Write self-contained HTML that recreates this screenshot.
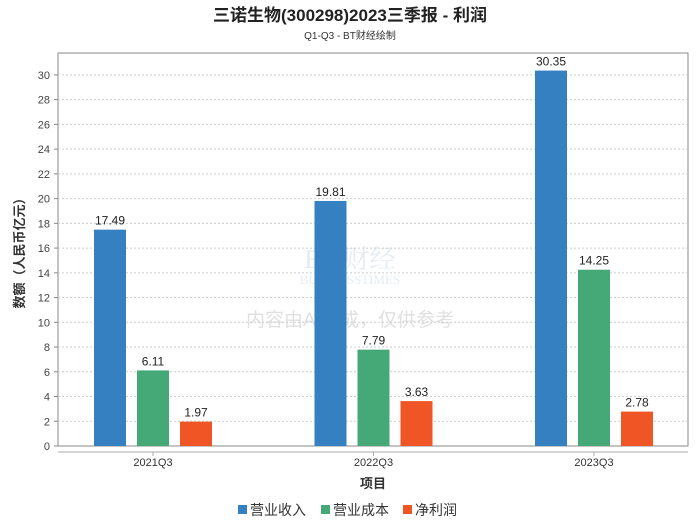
<!DOCTYPE html>
<html><head><meta charset="utf-8"><style>
body{margin:0;background:#fff;width:700px;height:524px;overflow:hidden;font-family:"Liberation Sans","Noto Sans CJK SC",sans-serif;}
</style></head><body>
<svg width="700" height="524" font-family="'Liberation Sans','Noto Sans CJK SC',sans-serif">
<text x="350" y="21" text-anchor="middle" font-size="17" font-weight="bold" fill="#222">三诺生物(300298)2023三季报 - 利润</text>
<text x="350" y="39" text-anchor="middle" font-size="10" fill="#333">Q1-Q3 - BT财经绘制</text>
<g opacity="0.12">
<text x="350" y="268" text-anchor="middle" font-size="26" fill="#3060a0" font-family="'Liberation Serif','Noto Serif CJK SC',serif">BT 财经</text>
<text x="350" y="284" text-anchor="middle" font-size="13" fill="#3060a0" font-family="'Liberation Serif',serif">BUSINESSTIMES</text>
</g>
<text x="350" y="326" text-anchor="middle" font-size="19" fill="#000" opacity="0.12">内容由AI生成，仅供参考</text>
<rect x="58" y="53" width="630" height="393" fill="none" stroke="#888"/>
<line x1="58" y1="452" x2="688" y2="452" stroke="#aaa"/>
<g id="grid"></g><g id="bars"></g>
<text x="373" y="488" text-anchor="middle" font-size="13" font-weight="bold" fill="#333">项目</text>
<text transform="translate(24,250) rotate(-90)" text-anchor="middle" font-size="13" font-weight="bold" fill="#333">数额（人民币亿元）</text>
<g font-size="14" fill="#333">
<rect x="238" y="505" width="9" height="9" fill="#3580c0"/><text x="250" y="515">营业收入</text>
<rect x="321" y="505" width="9" height="9" fill="#45a877"/><text x="333" y="515">营业成本</text>
<rect x="403" y="505" width="9" height="9" fill="#f05525"/><text x="415" y="515">净利润</text>
</g>
</svg>
<script>
const categories=["2021Q3","2022Q3","2023Q3"];
const revenue=[17.49,19.81,30.35];
const cost=[6.11,7.79,14.25];
const profit=[1.97,3.63,2.78];
const yTicks=[0,2,4,6,8,10,12,14,16,18,20,22,24,26,28,30];
const NS="http://www.w3.org/2000/svg";
const y=v=>446-v*12.37;
const gx=i=>153+i*220.5;
const grid=document.getElementById('grid');
function mk(t,a,p){const e=document.createElementNS(NS,t);for(const k in a)e.setAttribute(k,a[k]);p.appendChild(e);return e;}
yTicks.forEach(v=>{
 if(v>0){const l=mk('line',{x1:58,x2:688,y1:y(v),y2:y(v),stroke:'#ccc','stroke-dasharray':'2,2'},grid);
 
 }
 const tk=mk('line',{x1:54,x2:58,y1:y(v),y2:y(v),stroke:'#888'},grid);
 
 
 const t=mk('text',{x:50,y:y(v)+4,'text-anchor':'end','font-size':11,fill:'#444'},grid);t.textContent=v;
 
 
});
const bars=document.getElementById('bars');
const series=[[revenue,'#3580c0','revenue'],[cost,'#45a877','cost'],[profit,'#f05525','profit']];
categories.forEach((c,i)=>{
 const cx=gx(i);
 const t=mk('text',{x:cx,y:466,'text-anchor':'middle','font-size':11,fill:'#333'},bars);t.textContent=c;
 
 
 const tk=mk('line',{x1:cx,x2:cx,y1:452,y2:456,stroke:'#aaa'},bars);
 
 
 series.forEach((s,j)=>{
  const v=s[0][i];const bx=cx-59+j*43;
  const r=mk('rect',{x:bx,y:y(v),width:32,height:446-y(v),fill:s[1]},bars);
  
  
  const l=mk('text',{x:bx+16,y:y(v)-5,'text-anchor':'middle','font-size':12,fill:'#222'},bars);l.textContent=v.toFixed(2);
  
  
 });
});
</script>
</body></html>
